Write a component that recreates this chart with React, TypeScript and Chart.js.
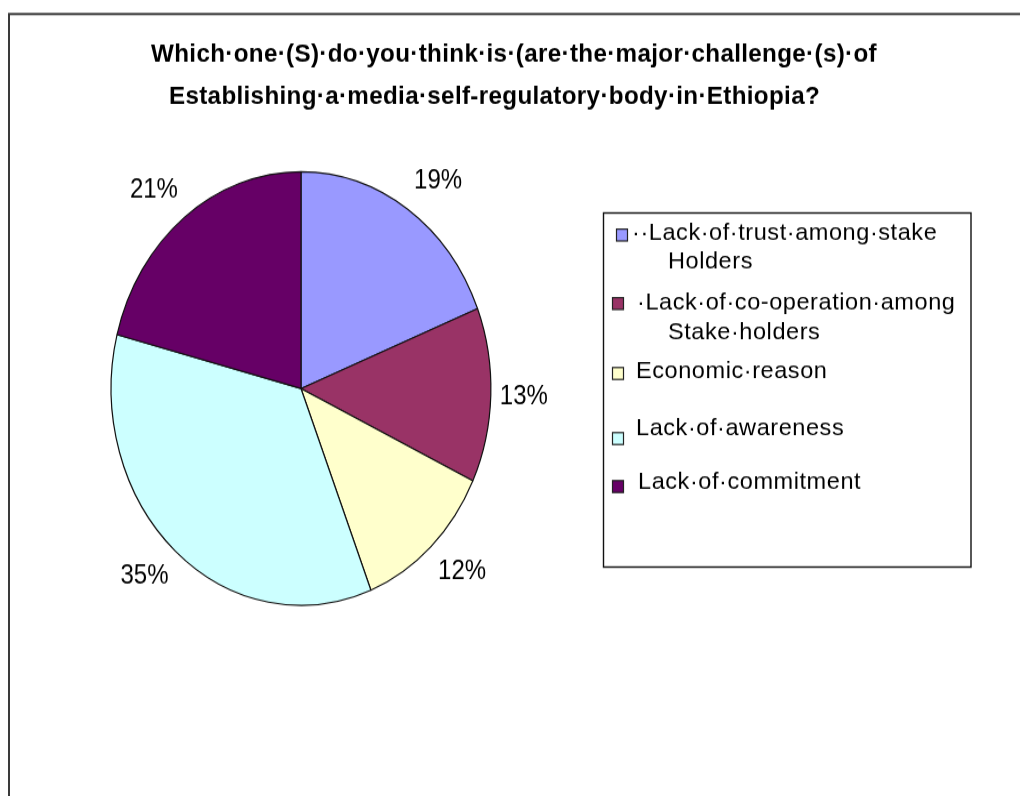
import React, { useEffect, useRef } from 'react';
import { Chart, ArcElement, PieController } from 'chart.js';

Chart.register(ArcElement, PieController);

// ---- data ----
const TITLE_LINES = [
  'Which·one·(S)·do·you·think·is·(are·the·major·challenge·(s)·of',
  'Establishing·a·media·self-regulatory·body·in·Ethiopia?',
];
const CATEGORY_LINES = [
  ['··Lack·of·trust·among·stake', 'Holders'],
  ['·Lack·of·co-operation·among', 'Stake·holders'],
  ['Economic·reason'],
  ['Lack·of·awareness'],
  ['Lack·of·commitment'],
];
const VALUES = [19, 13, 12, 35, 21];
const COLORS = ['#9999FF', '#993366', '#FFFFCC', '#CCFFFF', '#660066'];

// ---- layout (virtual canvas, stretched vertically by CSS) ----
const W = 1020;
const H = 697;
const FONT = '"Liberation Sans", Arial, sans-serif';

// legend layout
const LEG_BOX = { x: 603.5, y: 186.5, w: 367.5, h: 310 };
const LEG_ROWS = [
  { mx: 622, my: 205.8, tx: 632, ty: [204, 229.4], indent: 668 },
  { mx: 618, my: 265.8, tx: 637, ty: [265.3, 291.6], indent: 668 },
  { mx: 618, my: 327, tx: 636, ty: [325.7], indent: 636 },
  { mx: 618, my: 384, tx: 636, ty: [375.7], indent: 636 },
  { mx: 618, my: 426, tx: 638, ty: [422], indent: 638 },
];

function txt(
  ctx: CanvasRenderingContext2D,
  s: string,
  x: number,
  y: number,
  font: string,
  align: CanvasTextAlign,
  base: CanvasTextBaseline,
  ls: number,
  sx: number
) {
  ctx.save();
  ctx.translate(x, y);
  ctx.scale(sx, 1);
  ctx.font = font;
  ctx.textAlign = align;
  ctx.textBaseline = base;
  (ctx as any).letterSpacing = ls + 'px';
  ctx.fillStyle = '#000';
  ctx.fillText(s, 0, 0);
  ctx.restore();
}

const decor = {
  id: 'decor',
  beforeDraw(chart: any) {
    const ctx = chart.ctx as CanvasRenderingContext2D;
    ctx.save();
    ctx.fillStyle = '#fff';
    ctx.fillRect(0, 0, chart.width, chart.height);
    ctx.restore();
  },
  afterDraw(chart: any) {
    const ctx = chart.ctx as CanvasRenderingContext2D;
    ctx.save();
    // outer frame
    ctx.strokeStyle = '#3a3a3a';
    ctx.lineWidth = 2;
    ctx.strokeRect(9, 12.3, W + 40, H + 40);

    // title
    txt(ctx, TITLE_LINES[0], 514, 53.6, `bold 22px ${FONT}`, 'center', 'alphabetic', 0.3, 1.1);
    txt(ctx, TITLE_LINES[1], 494.5, 90.8, `bold 22px ${FONT}`, 'center', 'alphabetic', 0.3, 1.1);

    // percent labels (outside end of each slice)
    const meta = chart.getDatasetMeta(0);
    const total = VALUES.reduce((a, b) => a + b, 0);
    meta.data.forEach((arc: any, i: number) => {
      const p = arc.getProps(['x', 'y', 'startAngle', 'endAngle', 'outerRadius'], true);
      const mid = (p.startAngle + p.endAngle) / 2;
      const c = Math.cos(mid);
      const s = Math.sin(mid);
      const lx = p.x + (p.outerRadius + 6) * c + 27 * Math.sign(c);
      const ly = p.y + (p.outerRadius + 29.5) * s;
      const pct = Math.round((VALUES[i] / total) * 100) + '%';
      txt(ctx, pct, lx, ly, `24px ${FONT}`, 'center', 'middle', 0, 1);
    });

    // legend
    ctx.strokeStyle = '#111';
    ctx.lineWidth = 1.4;
    ctx.strokeRect(LEG_BOX.x, LEG_BOX.y, LEG_BOX.w, LEG_BOX.h);
    LEG_ROWS.forEach((r, i) => {
      ctx.fillStyle = COLORS[i];
      ctx.fillRect(r.mx - 5.5, r.my - 5.2, 11, 10.4);
      ctx.strokeStyle = '#222';
      ctx.lineWidth = 1.2;
      ctx.strokeRect(r.mx - 5.5, r.my - 5.2, 11, 10.4);
      CATEGORY_LINES[i].forEach((line, j) => {
        txt(ctx, line, j === 0 ? r.tx : r.indent, r.ty[j], `21px ${FONT}`, 'left', 'middle', 0.5, 1.12);
      });
    });
    ctx.restore();
  },
};

export default function App() {
  const ref = useRef<HTMLCanvasElement>(null);
  useEffect(() => {
    const chart = new Chart(ref.current as HTMLCanvasElement, {
      type: 'pie',
      data: {
        labels: CATEGORY_LINES.map((l) => l.join(' ')),
        datasets: [
          {
            data: VALUES,
            backgroundColor: COLORS,
            borderColor: '#111',
            borderWidth: 1.2,
          },
        ],
      },
      options: {
        responsive: false,
        animation: false,
        layout: { padding: { left: 110.5, right: 528.5, top: 149.7, bottom: 166.3 } },
        plugins: {
          legend: { display: false },
          tooltip: { enabled: false },
          title: { display: false },
        },
      },
      plugins: [decor],
    } as any);
    return () => chart.destroy();
  }, []);
  return (
    <div style={{ position: 'fixed', left: 0, top: 0, width: W, height: 796, overflow: 'hidden', background: '#fff' }}>
      <canvas ref={ref} width={W} height={H} style={{ width: W + 'px', height: '796px', display: 'block' }} />
    </div>
  );
}
